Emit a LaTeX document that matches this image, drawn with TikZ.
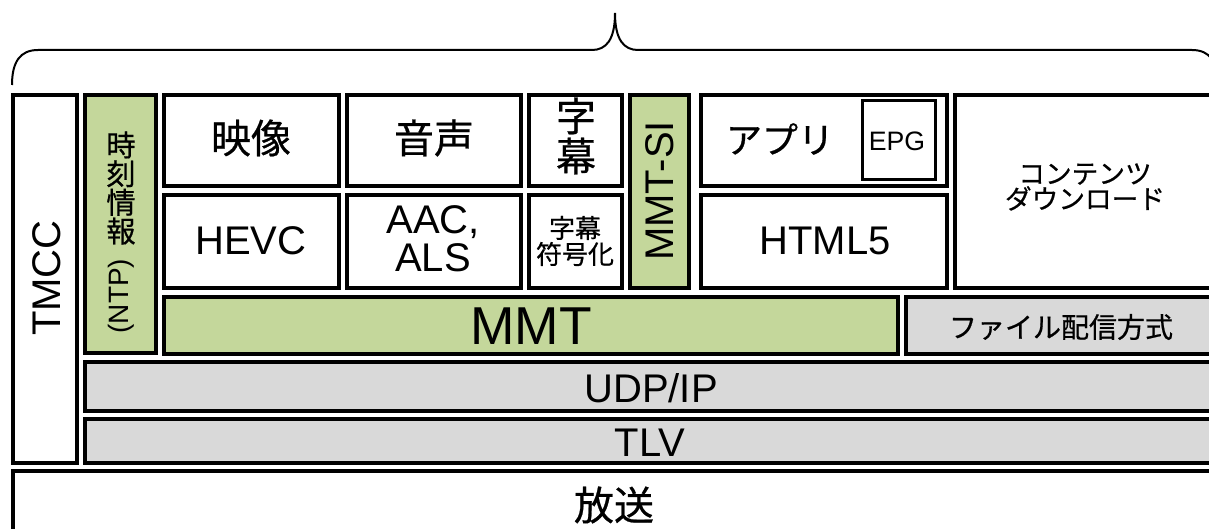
\documentclass[tikz,border=0pt]{standalone}
\usepackage{fontspec}
\setmainfont{Liberation Sans}
\newfontfamily\jp[FakeBold=0.6]{Noto Sans CJK JP}
\definecolor{grn}{HTML}{C4D79B}
\definecolor{gry}{HTML}{D9D9D9}
\newcommand\layerbox[7]{%
  \node[#6, minimum width={(#4-#2-3.5)*0.75pt}, minimum height={(#5-#3-3.5)*0.75pt}] (#1) at ({(#2+#4)/2},{(#3+#5)/2}) {#7};}
\begin{document}
\begin{tikzpicture}[x=0.75pt,y=-0.75pt,
  box/.style={draw=black, line width=2.7pt, inner sep=0pt, outer sep=0pt},
  epgbox/.style={draw=black, line width=2.3pt, inner sep=0pt, outer sep=0pt},
  lbl/.style={inner sep=0pt, outer sep=0pt, align=center, text=black},
  fbig/.style={font=\fontsize{30}{30}\selectfont},
  fhuge/.style={font=\fontsize{40}{40}\selectfont},
  jbig/.style={font=\jp\fontsize{30}{30}\selectfont},
  brace/.style={draw=black, line width=1.5pt}]
\useasboundingbox (0,0) rectangle (1209,528);
\clip (0,0) rectangle (1209,528);
\fill[white] (0,0) rectangle (1209,528);

% brace
\coordinate (bl) at (12,85);
\coordinate (br) at (1218,85);
\coordinate (bt) at (615,13);
\draw[brace] (bl) .. controls (12,62) and (20,50) .. (38,50) -- (592,50)
  .. controls (606,50) and (615,40) .. (bt)
  .. controls (615,40) and (624,50) .. (638,50) -- (1192,50)
  .. controls (1210,50) and (1218,62) .. (br);

% boxes
\layerbox{tmcc}{11}{93}{79}{465}{box,fill=white}{}
\layerbox{time}{83}{93}{158}{355}{box,fill=grn}{}
\layerbox{video}{162}{93}{341}{188}{box,fill=white}{}
\layerbox{hevc}{162}{193}{341}{290}{box,fill=white}{}
\layerbox{audio}{345}{93}{523}{188}{box,fill=white}{}
\layerbox{aac}{345}{193}{523}{290}{box,fill=white}{}
\layerbox{sub}{527}{93}{624}{188}{box,fill=white}{}
\layerbox{subc}{527}{193}{624}{290}{box,fill=white}{}
\layerbox{mmtsi}{628}{93}{691}{290}{box,fill=grn}{}
\layerbox{app}{699}{93}{949}{188}{box,fill=white}{}
\layerbox{epg}{861}{99}{937}{181}{epgbox,fill=white}{}
\layerbox{html}{699}{193}{949}{290}{box,fill=white}{}
\layerbox{dl}{953}{93}{1218}{290}{box,fill=white}{}
\layerbox{mmt}{162}{295}{900}{356}{box,fill=grn}{}
\layerbox{file}{904}{295}{1218}{356}{box,fill=gry}{}
\layerbox{udp}{83}{360}{1218}{413}{box,fill=gry}{}
\layerbox{tlv}{83}{417}{1218}{465}{box,fill=gry}{}
\layerbox{bcast}{11}{469}{1218}{545}{box,fill=white}{}

% labels
\node[lbl,fbig,rotate=90] (tmccL) at (47,278) {TMCC};
\node[lbl,font=\jp\fontsize{22}{21.5}\selectfont] (timeL) at (121,188) {時\\刻\\情\\報};
\node[lbl,font=\fontsize{21}{21}\selectfont,rotate=90] (ntpL) at (121,296) {(NTP)};
\node[lbl,jbig] (videoL) at (251,138) {映像};
\node[lbl,jbig] (audioL) at (434,138) {音声};
\node[lbl,jbig] (subL) at (576,136) {字\\幕};
\node[lbl,fbig] (hevcL) at (251,241) {HEVC};
\node[lbl,font=\fontsize{30}{28.5}\selectfont] (aacL) at (433,238.5) {AAC,\\ALS};
\node[lbl,font=\jp\fontsize{19.5}{19.5}\selectfont] (subcL) at (575,241) {字幕\\符号化};
\node[lbl,fbig,rotate=90] (mmtsiL) at (660,191) {MMT-SI};
\node[lbl,font=\jp\fontsize{27}{27}\selectfont] (appL) at (780,139) {アプリ};
\node[lbl,font=\fontsize{20}{20}\selectfont] (epgL) at (897,141) {EPG};
\node[lbl,fbig] (htmlL) at (825,241) {HTML5};
\node[lbl,font=\jp\fontsize{20}{19}\selectfont] (dlL) at (1085,187) {コンテンツ\\ダウンロード};
\node[lbl,fhuge] (mmtL) at (531,326) {MMT};
\node[lbl,font=\jp\fontsize{21}{21}\selectfont] (fileL) at (1061,327) {ファイル配信方式};
\node[lbl,fbig] (udpL) at (651,388) {UDP/IP};
\node[lbl,fbig] (tlvL) at (650,442.5) {TLV};
\node[lbl,jbig] (bcastL) at (614,505) {放送};
\end{tikzpicture}
\end{document}
